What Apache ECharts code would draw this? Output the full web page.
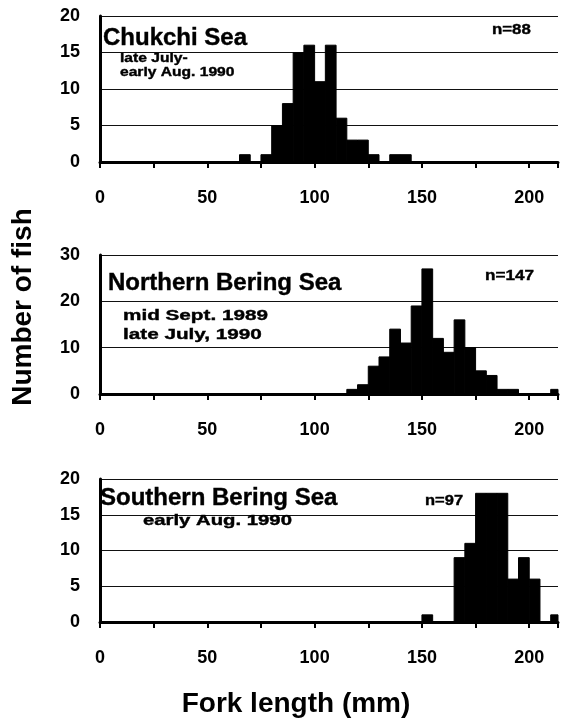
<!DOCTYPE html>
<html>
<head>
<meta charset="utf-8">
<script src="https://cdn.jsdelivr.net/npm/echarts@6/dist/echarts.min.js"></script>
<style>
html,body{margin:0;padding:0;background:#fff;}
#chart{width:561px;height:727px;}
</style>
</head>
<body>
<div id="chart"></div>
<script>
// ---- data (bin start in mm, count of fish); bins are 5 mm wide ----
const binWidth = 5;
const chukchiBins   = [65, 75, 80, 85, 90, 95, 100, 105, 110, 115, 120, 125, 135, 140];
const chukchiCounts = [1, 1, 5, 8, 15, 16, 11, 16, 6, 3, 3, 1, 1, 1];

const northBins   = [115, 120, 125, 130, 135, 140, 145, 150, 155, 160, 165, 170, 175, 180, 185, 190, 210];
const northCounts = [1, 2, 6, 8, 14, 11, 19, 27, 12, 9, 16, 10, 5, 4, 1, 1, 1];

const southBins   = [150, 165, 170, 175, 180, 185, 190, 195, 200, 210];
const southCounts = [1, 9, 11, 18, 18, 18, 6, 9, 6, 1];

const xTickLabels = [0, 50, 100, 150, 200];
const panelYMax = [20, 30, 20];
const panelYInterval = [5, 10, 5];

const FONT = '"Liberation Sans", Arial, Helvetica, sans-serif';

function toData(bins, counts) {
  return bins.map((b, i) => [b, b + binWidth, counts[i]]);
}

const grids = [
  { left: 100, right: 0, top: 16, height: 146 },
  { left: 100, right: 0, top: 255, height: 139 },
  { left: 100, right: 0, top: 479, height: 143 }
];

const xAxes = grids.map((g, i) => ({
  type: 'value', gridIndex: i, min: 0, max: 213.4, interval: 25,
  axisLine: { show: true, onZero: false, lineStyle: { color: '#000', width: 3 } },
  axisTick: { show: true, length: 6, lineStyle: { color: '#000', width: 2 } },
  splitLine: { show: false },
  axisLabel: {
    margin: 27, color: '#000', fontSize: 18, fontWeight: 'bold', fontFamily: FONT,
    formatter: v => (xTickLabels.indexOf(v) >= 0 ? String(v) : '')
  }
}));

const yAxes = grids.map((g, i) => ({
  type: 'value', gridIndex: i, min: 0, max: panelYMax[i], interval: panelYInterval[i],
  axisLine: { show: true, lineStyle: { color: '#000', width: 3 } },
  axisTick: { show: false },
  splitLine: { show: true, lineStyle: { color: '#111', width: 1 } },
  axisLabel: { margin: 20, color: '#000', fontSize: 18, fontWeight: 'bold', fontFamily: FONT }
}));

function renderHist(params, api) {
  const x0 = api.value(0), x1 = api.value(1), v = api.value(2);
  const p0 = api.coord([x0, v]);
  const p1 = api.coord([x1, 0]);
  const cs = params.coordSys;
  const right = Math.min(p1[0], cs.x + cs.width);
  return {
    type: 'rect',
    shape: { x: p0[0], y: p0[1], width: right - p0[0], height: p1[1] - p0[1] },
    style: { fill: '#000', stroke: '#000', lineWidth: 1 }
  };
}

const datasets = [toData(chukchiBins, chukchiCounts), toData(northBins, northCounts), toData(southBins, southCounts)];
const series = datasets.map((d, i) => ({
  type: 'custom', xAxisIndex: i, yAxisIndex: i, data: d,
  encode: { x: [0, 1], y: 2 }, renderItem: renderHist, z: 3
}));

function txt(text, x, y, size, scaleX, opts) {
  return Object.assign({
    type: 'text', x: x, y: y, scaleX: scaleX || 1, z: 10,
    style: {
      text: text, fill: '#000', align: 'left', verticalAlign: 'middle',
      font: 'bold ' + size + 'px ' + FONT, stroke: '#000', lineWidth: 0.4
    }
  }, opts || {});
}

const graphic = [
  txt('Chukchi Sea', 103, 38, 24, 1.0),
  txt('late July-', 120, 58, 13, 1.2),
  txt('early Aug. 1990', 120, 72, 13, 1.2),
  txt('n=88', 492, 30, 15, 1.12),

  txt('Northern Bering Sea', 108, 283, 24, 1.0),
  txt('mid Sept. 1989', 123, 316, 15, 1.38),
  txt('late July, 1990', 123, 335, 15, 1.38),
  txt('n=147', 485, 276, 15, 1.14),

  txt('Southern Bering Sea', 100, 498, 24, 1.0),
  txt('early Aug. 1990', 143, 521, 14, 1.45),
  txt('n=97', 425, 501, 15, 1.1),

  {
    type: 'text', x: 23, y: 307, rotation: Math.PI / 2, z: 10,
    style: { text: 'Number of fish', fill: '#000', align: 'center', verticalAlign: 'middle',
      font: 'bold 28px ' + FONT }
  },
  {
    type: 'text', x: 296, y: 704, z: 10,
    style: { text: 'Fork length (mm)', fill: '#000', align: 'center', verticalAlign: 'middle',
      font: 'bold 28px ' + FONT }
  }
];

const chart = echarts.init(document.getElementById('chart'), null, { renderer: 'canvas' });
chart.setOption({
  animation: false,
  backgroundColor: '#fff',
  grid: grids,
  xAxis: xAxes,
  yAxis: yAxes,
  series: series,
  graphic: graphic
});
</script>
</body>
</html>
